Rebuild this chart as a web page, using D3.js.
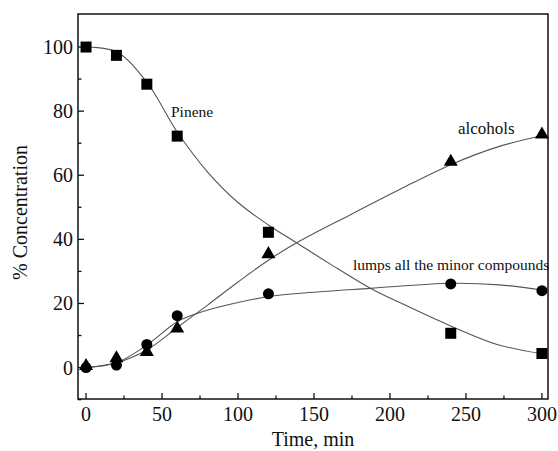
<!DOCTYPE html>
<html>
<head>
<meta charset="utf-8">
<script src="https://cdn.jsdelivr.net/npm/d3@7"></script>
<style>
  body { margin: 0; background: #fff; }
</style>
</head>
<body>
<div id="wrapper"></div>
<script>
// measured points
const times = [0, 20, 40, 60, 120, 240, 300];
const pinene = [100, 97.4, 88.4, 72.2, 42.2, 10.7, 4.4];
const alcohols = [0.5, 2.9, 4.9, 12.2, 35.4, 64.2, 72.7];
const lumps = [0, 0.8, 7.2, 16.2, 23, 26.1, 24];

// fitted curves
const fitPineneT = [0, 20, 40, 60, 80, 100, 120, 140, 160, 188, 210, 240, 270, 300];
const fitPinene = [100, 98.5, 89, 73.5, 61, 51.5, 44.5, 38.5, 32.5, 24.5, 19.5, 13, 7.3, 4.3];
const fitAlcoholsT = [0, 20, 40, 60, 80, 100, 120, 140, 174, 207, 240, 272, 300];
const fitAlcohols = [0, 1.5, 5.5, 12.5, 19.5, 26.7, 33.5, 39.3, 47.7, 55.7, 63.3, 69, 72.3];
const fitLumpsT = [0, 20, 40, 60, 73, 97, 124, 141, 187, 240, 272, 300];
const fitLumps = [0, 1.5, 7, 14.3, 16.9, 20, 22.4, 23.2, 24.7, 26.3, 25.8, 24.2];

const xTicks = [0, 50, 100, 150, 200, 250, 300];
const yTicks = [0, 20, 40, 60, 80, 100];

const W = 558, H = 451;
const margin = { left: 78, right: 10, top: 14, bottom: 52 };

const svg = d3.select("#wrapper").append("svg")
    .attr("width", W).attr("height", H)
    .attr("font-family", "'Liberation Serif', 'DejaVu Serif', serif")
    .attr("fill", "#111");

const x = d3.scaleLinear().domain([-5.3, 304]).range([margin.left, W - margin.right]);
const y = d3.scaleLinear().domain([-9.8, 110.3]).range([H - margin.bottom, margin.top]);

const x0 = margin.left, x1 = W - margin.right, y0 = H - margin.bottom, y1 = margin.top;

// minor ticks
const xMinor = d3.range(25, 300, 50);
const yMinor = d3.range(-10, 110, 10).filter(v => v % 20 !== 0);

const gx = svg.append("g").attr("transform", `translate(0,${y0})`);
gx.selectAll("line.maj").data(xTicks).join("line")
    .attr("x1", d => x(d)).attr("x2", d => x(d)).attr("y1", 0).attr("y2", -6)
    .attr("stroke", "#111").attr("stroke-width", 1.3);
gx.selectAll("line.min").data(xMinor).join("line")
    .attr("x1", d => x(d)).attr("x2", d => x(d)).attr("y1", 0).attr("y2", -3.5)
    .attr("stroke", "#111").attr("stroke-width", 1.3);
gx.selectAll("text").data(xTicks).join("text")
    .attr("x", d => x(d)).attr("y", 22)
    .attr("text-anchor", "middle").style("font-size", "20px")
    .text(d => d);

const gy = svg.append("g").attr("transform", `translate(${x0},0)`);
gy.selectAll("line.maj").data(yTicks).join("line")
    .attr("y1", d => y(d)).attr("y2", d => y(d)).attr("x1", 0).attr("x2", 6)
    .attr("stroke", "#111").attr("stroke-width", 1.3);
gy.selectAll("line.min").data(yMinor).join("line")
    .attr("y1", d => y(d)).attr("y2", d => y(d)).attr("x1", 0).attr("x2", 3.5)
    .attr("stroke", "#111").attr("stroke-width", 1.3);
gy.selectAll("text").data(yTicks).join("text")
    .attr("x", -5).attr("y", d => y(d)).attr("dy", "0.35em")
    .attr("text-anchor", "end").style("font-size", "20px")
    .text(d => d);

// frame
svg.append("rect")
    .attr("x", x0).attr("y", y1).attr("width", x1 - x0).attr("height", y0 - y1)
    .attr("fill", "none").attr("stroke", "#111").attr("stroke-width", 1.5);

// fitted lines
const line = d3.line().curve(d3.curveCatmullRom.alpha(0.5)).x(d => x(d[0])).y(d => y(d[1]));
[[fitPineneT, fitPinene], [fitAlcoholsT, fitAlcohols], [fitLumpsT, fitLumps]].forEach(([t, v]) => {
    svg.append("path")
        .attr("d", line(d3.zip(t, v)))
        .attr("fill", "none").attr("stroke", "#555").attr("stroke-width", 1.1);
});

// markers
svg.append("g").selectAll("rect").data(d3.zip(times, pinene)).join("rect")
    .attr("x", d => x(d[0]) - 5.5).attr("y", d => y(d[1]) - 5.5)
    .attr("width", 11).attr("height", 11).attr("fill", "#000");

const tri = d3.symbol().type(d3.symbolTriangle).size(85);
svg.append("g").selectAll("path").data(d3.zip(times, alcohols)).join("path")
    .attr("transform", d => `translate(${x(d[0])},${y(d[1])})`)
    .attr("d", tri).attr("fill", "#000");

svg.append("g").selectAll("circle").data(d3.zip(times, lumps)).join("circle")
    .attr("cx", d => x(d[0])).attr("cy", d => y(d[1])).attr("r", 5.5)
    .attr("fill", "#000");

// annotations
svg.append("text").attr("x", 171).attr("y", 117).style("font-size", "15.5px").text("Pinene");
svg.append("text").attr("x", 458).attr("y", 134).style("font-size", "17px").text("alcohols");
svg.append("text").attr("x", 353).attr("y", 270).style("font-size", "15.5px").text("lumps all the minor compounds");

// axis titles
svg.append("text")
    .attr("text-anchor", "middle")
    .attr("transform", `translate(27,${(y0 + y1) / 2 + 6}) rotate(-90)`)
    .style("font-size", "20px")
    .text("% Concentration");
svg.append("text")
    .attr("x", 313).attr("y", 446)
    .attr("text-anchor", "middle").style("font-size", "20px")
    .text("Time, min");
</script>
</body>
</html>
